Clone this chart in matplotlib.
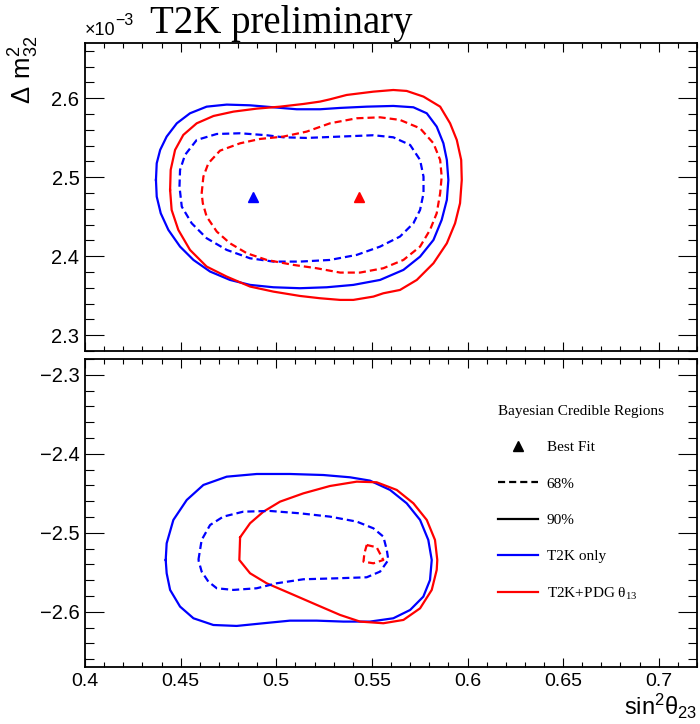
import matplotlib
matplotlib.use("Agg")
import matplotlib.pyplot as plt
from matplotlib.lines import Line2D
from matplotlib.ticker import MultipleLocator, FuncFormatter

# ---------------- data (sin^2 theta23, dm2_32 [1e-3 eV^2]) ----------------
# Normal ordering (top panel)
no_t2k_90_x = [0.4371, 0.4375, 0.4393, 0.4427, 0.4480, 0.4549, 0.4636, 0.4741, 0.4863, 0.4985,
               0.5107, 0.5229, 0.5334, 0.5473, 0.5612, 0.5717, 0.5787, 0.5839, 0.5874, 0.5892,
               0.5900, 0.5892, 0.5865, 0.5822, 0.5752, 0.5665, 0.5543, 0.5403, 0.5264, 0.5124,
               0.4985, 0.4863, 0.4758, 0.4654, 0.4567, 0.4497, 0.4436, 0.4396, 0.4375, 0.4371]
no_t2k_90_y = [2.4966, 2.5177, 2.5346, 2.5515, 2.5683, 2.5810, 2.5894, 2.5920, 2.5911, 2.5886,
               2.5861, 2.5861, 2.5878, 2.5894, 2.5903, 2.5886, 2.5810, 2.5641, 2.5430, 2.5219,
               2.4966, 2.4713, 2.4460, 2.4206, 2.3995, 2.3827, 2.3700, 2.3637, 2.3607, 2.3595,
               2.3607, 2.3637, 2.3700, 2.3806, 2.3953, 2.4122, 2.4333, 2.4544, 2.4755, 2.4966]

no_pdg_90_x = [0.4445, 0.4448, 0.4471, 0.4514, 0.4584, 0.4672, 0.4776, 0.4898, 0.5020, 0.5142,
               0.5229, 0.5281, 0.5368, 0.5508, 0.5612, 0.5682, 0.5770, 0.5857, 0.5909, 0.5944,
               0.5967, 0.5970, 0.5961, 0.5935, 0.5892, 0.5822, 0.5735, 0.5647, 0.5560, 0.5508,
               0.5403, 0.5334, 0.5229, 0.5124, 0.4985, 0.4863, 0.4741, 0.4636, 0.4549, 0.4488,
               0.4453, 0.4445]
no_pdg_90_y = [2.4839, 2.5093, 2.5346, 2.5536, 2.5683, 2.5776, 2.5831, 2.5869, 2.5894, 2.5928,
               2.5958, 2.5987, 2.6042, 2.6084, 2.6105, 2.6093, 2.6021, 2.5894, 2.5683, 2.5472,
               2.5219, 2.4966, 2.4671, 2.4417, 2.4164, 2.3911, 2.3700, 2.3573, 2.3531, 2.3489,
               2.3447, 2.3447, 2.3468, 2.3497, 2.3552, 2.3616, 2.3742, 2.3869, 2.4080, 2.4333,
               2.4586, 2.4839]

no_t2k_68_x = [0.4494, 0.4497, 0.4523, 0.4584, 0.4689, 0.4811, 0.4950, 0.5037, 0.5159, 0.5334,
               0.5508, 0.5612, 0.5700, 0.5752, 0.5770, 0.5770, 0.5752, 0.5717, 0.5647, 0.5543,
               0.5421, 0.5281, 0.5124, 0.4985, 0.4863, 0.4741, 0.4636, 0.4558, 0.4506, 0.4494]
no_t2k_68_y = [2.4882, 2.5093, 2.5283, 2.5472, 2.5548, 2.5557, 2.5532, 2.5506, 2.5498, 2.5515,
               2.5532, 2.5506, 2.5409, 2.5219, 2.5008, 2.4797, 2.4586, 2.4417, 2.4249, 2.4122,
               2.4017, 2.3953, 2.3932, 2.3932, 2.3974, 2.4080, 2.4228, 2.4417, 2.4628, 2.4882]

no_pdg_68_x = [0.4610, 0.4619, 0.4645, 0.4706, 0.4811, 0.4915, 0.5037, 0.5159, 0.5281, 0.5421,
               0.5543, 0.5647, 0.5752, 0.5822, 0.5857, 0.5865, 0.5857, 0.5839, 0.5804, 0.5752,
               0.5665, 0.5560, 0.5438, 0.5334, 0.5211, 0.5090, 0.4950, 0.4846, 0.4758, 0.4689,
               0.4636, 0.4616, 0.4610]
no_pdg_68_y = [2.4797, 2.5008, 2.5177, 2.5337, 2.5430, 2.5485, 2.5515, 2.5578, 2.5683, 2.5747,
               2.5759, 2.5726, 2.5620, 2.5430, 2.5219, 2.5008, 2.4797, 2.4544, 2.4333, 2.4122,
               2.3953, 2.3848, 2.3793, 2.3793, 2.3848, 2.3890, 2.3953, 2.4038, 2.4164, 2.4312,
               2.4502, 2.4671, 2.4797]

no_best_x = [0.488, 0.5435]
no_best_y = [2.4747, 2.4747]

# Inverted ordering (bottom panel)
io_t2k_90_x = [0.4422, 0.4427, 0.4462, 0.4532, 0.4619, 0.4741, 0.4898, 0.5072, 0.5246, 0.5386,
               0.5490, 0.5595, 0.5682, 0.5752, 0.5795, 0.5813, 0.5804, 0.5769, 0.5700, 0.5612,
               0.5490, 0.5351, 0.5211, 0.5072, 0.4933, 0.4793, 0.4671, 0.4567, 0.4497, 0.4445,
               0.4427, 0.4422]
io_t2k_90_y = [-2.5345, -2.5134, -2.4838, -2.4585, -2.4395, -2.4290, -2.4256, -2.4256, -2.4269, -2.4298,
               -2.4340, -2.4458, -2.4627, -2.4838, -2.5091, -2.5345, -2.5598, -2.5809, -2.5978, -2.6083,
               -2.6125, -2.6125, -2.6113, -2.6113, -2.6146, -2.6180, -2.6168, -2.6083, -2.5935, -2.5724,
               -2.5513, -2.5345]

io_pdg_90_x = [0.4811, 0.4807, 0.4863, 0.4950, 0.5072, 0.5212, 0.5334, 0.5438, 0.5560, 0.5665,
               0.5752, 0.5813, 0.5839, 0.5842, 0.5830, 0.5787, 0.5717, 0.5630, 0.5525, 0.5421,
               0.5281, 0.5142, 0.5020, 0.4933, 0.4863, 0.4811]
io_pdg_90_y = [-2.5058, -2.5345, -2.5513, -2.5640, -2.5767, -2.5914, -2.6041, -2.6125, -2.6146, -2.6104,
               -2.5957, -2.5724, -2.5471, -2.5345, -2.5091, -2.4838, -2.4627, -2.4458, -2.4361, -2.4353,
               -2.4408, -2.4501, -2.4606, -2.4733, -2.4880, -2.5058]

io_t2k_68_x = [0.4593, 0.4610, 0.4654, 0.4723, 0.4828, 0.4967, 0.5124, 0.5281, 0.5421, 0.5508,
               0.5560, 0.5578, 0.5586, 0.5543, 0.5473, 0.5316, 0.5142, 0.5002, 0.4898, 0.4776,
               0.4689, 0.4645, 0.4610, 0.4593]
io_t2k_68_y = [-2.5345, -2.5091, -2.4902, -2.4796, -2.4733, -2.4724, -2.4754, -2.4796, -2.4859, -2.4944,
               -2.5049, -2.5218, -2.5345, -2.5492, -2.5564, -2.5577, -2.5589, -2.5640, -2.5703, -2.5724,
               -2.5703, -2.5619, -2.5492, -2.5345]

io_pdg_68_x = [0.5473, 0.5525, 0.5560, 0.5508, 0.5456, 0.5461, 0.5473]
io_pdg_68_y = [-2.5155, -2.5184, -2.5345, -2.5387, -2.5366, -2.5260, -2.5155]

x_range = (0.4, 0.72)
no_range = (2.28, 2.67)
io_range = (-2.67, -2.28)

legend_title = "Bayesian Credible Regions"
legend_labels = ["Best Fit", "68%", "90%", "T2K only", r"T2K+PDG $\mathregular{\theta_{13}}$"]

# ---------------- style ----------------
BLUE = (0, 0, 1)
RED = (1, 0, 0)
LW = 1.6
DASH = (3.2, 1.8)
SANS = ["Liberation Sans", "DejaVu Sans"]
SERIF = ["Liberation Serif", "DejaVu Serif"]

plt.rcParams["font.family"] = SANS
plt.rcParams["axes.unicode_minus"] = True

W, H = 700, 724
fig = plt.figure(figsize=(W / 100, H / 100), dpi=100)

L, R = 85 / W, 697 / W
ax1 = fig.add_axes([L, (H - 351) / H, R - L, 308 / H])
ax2 = fig.add_axes([L, (H - 667) / H, R - L, 308 / H])


def xfmt(v, p):
    s = "%.2f" % v
    if s.endswith("0"):
        s = s[:-1]
    return s


def style(ax, ylim, show_xlabels):
    ax.set_xlim(*x_range)
    ax.set_ylim(*ylim)
    ax.xaxis.set_major_locator(MultipleLocator(0.05))
    ax.xaxis.set_minor_locator(MultipleLocator(0.01))
    ax.yaxis.set_major_locator(MultipleLocator(0.1))
    ax.yaxis.set_minor_locator(MultipleLocator(0.02))
    ax.tick_params(axis="both", which="both", direction="in", top=True, right=True,
                   width=0.8, color="black")
    ax.tick_params(axis="y", which="major", length=13.5, labelsize=14.5, pad=4)
    ax.tick_params(axis="y", which="minor", length=6.7)
    ax.tick_params(axis="x", which="major", length=6.5, labelsize=14, pad=4)
    ax.tick_params(axis="x", which="minor", length=3.3)
    if not show_xlabels:
        ax.tick_params(axis="x", labelbottom=False)
    ax.yaxis.set_major_formatter(FuncFormatter(
        lambda v, p: ("%.1f" % v).replace("-", "\u2212")))
    ax.xaxis.set_major_formatter(FuncFormatter(xfmt))
    for s in ax.spines.values():
        s.set_linewidth(1.3)


style(ax1, no_range, False)
style(ax2, io_range, True)

# top panel contours
ax1.plot(no_t2k_90_x, no_t2k_90_y, color=BLUE, lw=LW)
ax1.plot(no_pdg_90_x, no_pdg_90_y, color=RED, lw=LW)
ax1.plot(no_t2k_68_x, no_t2k_68_y, color=BLUE, lw=LW, dashes=DASH)
ax1.plot(no_pdg_68_x, no_pdg_68_y, color=RED, lw=LW, dashes=DASH)
ax1.plot(no_best_x[:1], no_best_y[:1], marker="^", ms=7, color=BLUE, ls="none")
ax1.plot(no_best_x[1:], no_best_y[1:], marker="^", ms=7, color=RED, ls="none")

# bottom panel contours
ax2.plot(io_t2k_90_x, io_t2k_90_y, color=BLUE, lw=LW)
ax2.plot(io_pdg_90_x, io_pdg_90_y, color=RED, lw=LW)
ax2.plot(io_t2k_68_x, io_t2k_68_y, color=BLUE, lw=LW, dashes=DASH)
ax2.plot(io_pdg_68_x, io_pdg_68_y, color=RED, lw=LW, dashes=DASH)

# legend
handles = [
    Line2D([], [], marker="^", ms=7, color="black", ls="none"),
    Line2D([], [], color="black", lw=LW, dashes=DASH),
    Line2D([], [], color="black", lw=LW),
    Line2D([], [], color=BLUE, lw=LW),
    Line2D([], [], color=RED, lw=LW),
]
leg = ax2.legend(handles, legend_labels, title=legend_title, frameon=False,
                 loc="upper left", bbox_to_anchor=((498 - 85) / 612, 1 - (405 - 359) / 308),
                 prop={"family": SERIF, "size": 11},
                 title_fontproperties={"family": SERIF, "size": 11},
                 handlelength=2.64, handletextpad=0.54, labelspacing=1.48,
                 borderpad=0, borderaxespad=0, alignment="left")

# texts
fig.text(150 / W, (H - 33) / H, "T2K preliminary", family=SERIF, fontsize=28, va="baseline", ha="left")
t10 = fig.text(85 / W, (H - 35) / H, "\u00d710", fontsize=13, va="baseline", ha="left")
ax1.annotate("\u22123", xy=(1.0, 0.62), xycoords=t10, fontsize=11.5, ha="left", va="bottom",
             annotation_clip=False)
fig.text(24 / W, (H - 36) / H, r"$\mathregular{\Delta\ m^{2}_{32}}$", fontsize=18.5, rotation=90,
         ha="center", va="top")
fig.text(697 / W, 9 / H, r"$\mathregular{sin^{2}\theta_{23}}$", fontsize=17, ha="right", va="baseline")

fig.savefig("out.png", dpi=100)
